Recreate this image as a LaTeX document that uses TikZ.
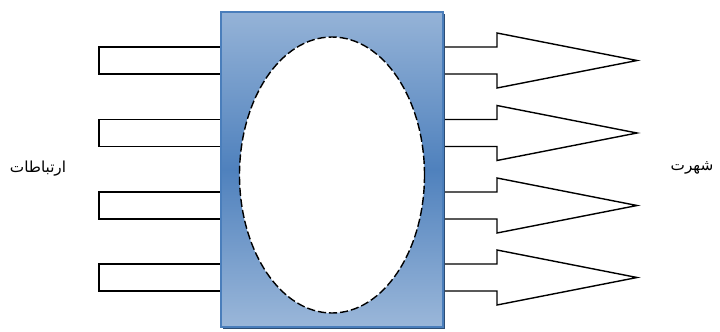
\documentclass[tikz,border=0pt]{standalone}
\usepackage{fontspec}
\newfontfamily\arabicfont[Script=Arabic]{DejaVu Sans}
\TeXXeTstate=1
\usepackage{xcolor}
\definecolor{boxlight}{RGB}{149,179,215}
\definecolor{boxmid}{RGB}{79,129,189}
\definecolor{boxedge}{RGB}{74,126,187}
\definecolor{boxshadow}{RGB}{44,77,117}
\usetikzlibrary{shadows,shapes.geometric}
\tikzset{
  blockbox/.style={draw=boxedge, line width=1.4pt, top color=boxlight, bottom color=boxlight!95!white, middle color=boxmid,
    minimum width=222*0.03cm, minimum height=315*0.03cm, inner sep=0pt,
    drop shadow={shadow xshift=1.8pt, shadow yshift=-1.8pt, fill=boxshadow, opacity=1}},
  corebox/.style={ellipse, draw=black, fill=white, dash pattern=on 7pt off 2.5pt, line width=1.2pt,
    minimum width=185*0.03cm, minimum height=276*0.03cm, inner sep=0pt},
  inbox/.style={draw=black, fill=white, line width=1.2pt, minimum width=122*0.03cm, minimum height=27*0.03cm, inner sep=0pt},
  outarrow/.style={draw=black, fill=white, line width=1.2pt, line join=miter},
  sidelabel/.style={font=\fontsize{13}{15}\selectfont\arabicfont, inner sep=0pt}
}
\begin{document}
\begin{tikzpicture}[x=0.03cm, y=-0.03cm]
  \useasboundingbox (0,0) rectangle (720,331);

  %% inputs on the left and outputs on the right
  \foreach \yc [count=\i] in {60.5,133,205.5,277.5} {
    \node[inbox] (in\i) at (160,\yc) {};
    \coordinate (tip\i) at (637,\yc);
    \draw[outarrow] (430,\yc-13.5) -- (497,\yc-13.5) -- (497,\yc-27.5) -- (tip\i)
      -- (497,\yc+27.5) -- (497,\yc+13.5) -- (430,\yc+13.5);
  }

  %% central block with the dashed core
  \node[blockbox] (block) at (332,169.5) {};
  \node[corebox] (core) at (332,175) {};

  \node[sidelabel] (cause) at (38,169) {\beginR ارتباطات\endR};
  \node[sidelabel] (effect) at (692,168) {\beginR شهرت\endR};
\end{tikzpicture}
\end{document}
